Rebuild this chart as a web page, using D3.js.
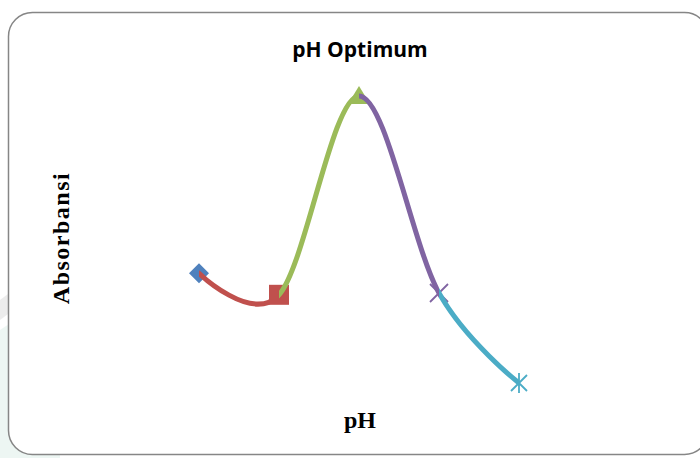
<!DOCTYPE html>
<html>
<head>
<meta charset="utf-8">
<script src="https://cdn.jsdelivr.net/npm/d3@7"></script>
<style>
  body { margin: 0; background: #fff; }
  svg { display: block; }
</style>
</head>
<body>
<div id="vis"></div>
<script>
// chart values
let phValues = [4, 5, 6, 7, 8];
let absorbance = [0.444, 0.396, 0.838, 0.400, 0.200];
let seriesColors = ['#4F81BD', '#C0504D', '#9BBB59', '#8064A2', '#4BACC6'];
let markerTypes = ['diamond', 'square', 'triangle', 'x', 'star'];

let width = 700;
let height = 458;

let svg = d3.select('#vis').append('svg')
  .attr('width', width)
  .attr('height', height);

// faint watermark band on the left side
svg.append('path')
  .attr('d', 'M0,330 L60,290 L60,458 L0,458 Z')
  .attr('fill', '#e6f2ee')
  .attr('opacity', 0.7);
svg.append('path')
  .attr('d', 'M0,300 L40,270 L40,290 L0,320 Z')
  .attr('fill', '#ececec');

// chart area with rounded border
svg.append('rect')
  .attr('x', 8.5).attr('y', 12.5)
  .attr('width', 700).attr('height', 442)
  .attr('rx', 24).attr('ry', 24)
  .attr('fill', '#fff')
  .attr('stroke', '#868686')
  .attr('stroke-width', 1.5);

// scales
let x = d3.scaleLinear().domain([3, 9]).range([119, 599]);
let y = d3.scaleLinear().domain([0, 1]).range([473, 23]);

let points = phValues.map((p, i) => [x(p), y(absorbance[i])]);

let line = d3.line().curve(d3.curveCardinal.tension(0));
let fullPath = line(points);

let defs = svg.append('defs');

// each series draws the piece of smoothed line ending at its point
for (let i = 1; i < points.length; i++) {
  defs.append('clipPath')
    .attr('id', 'seg' + i)
    .append('rect')
    .attr('x', points[i - 1][0]).attr('y', 0)
    .attr('width', points[i][0] - points[i - 1][0]).attr('height', height);
}

function drawMarker(i) {
  let [cx, cy] = points[i];
  let c = seriesColors[i];
  let g = svg.append('g').attr('transform', 'translate(' + cx + ',' + cy + ')');
  let type = markerTypes[i];
  if (type === 'diamond') {
    g.append('path').attr('d', 'M0,-10L10,0L0,10L-10,0Z').attr('fill', c);
  } else if (type === 'square') {
    g.append('rect').attr('x', -10).attr('y', -10).attr('width', 20).attr('height', 20).attr('fill', c);
  } else if (type === 'triangle') {
    g.append('path').attr('d', 'M0,-10L11,8L-11,8Z').attr('fill', c);
  } else if (type === 'x') {
    g.append('path').attr('d', 'M-9,-9L9,9M-9,9L9,-9')
      .attr('stroke', c).attr('stroke-width', 1.8).attr('fill', 'none');
  } else {
    g.append('path').attr('d', 'M-8,-8L8,8M-8,8L8,-8M0,-10L0,10')
      .attr('stroke', c).attr('stroke-width', 1.8).attr('fill', 'none');
  }
}

drawMarker(0);
for (let i = 1; i < points.length; i++) {
  svg.append('path')
    .attr('d', fullPath)
    .attr('clip-path', 'url(#seg' + i + ')')
    .attr('fill', 'none')
    .attr('stroke', seriesColors[i])
    .attr('stroke-width', 5)
    .attr('stroke-linecap', 'round');
  drawMarker(i);
}

// titles
svg.append('text')
  .attr('x', 360).attr('y', 57)
  .attr('text-anchor', 'middle')
  .style('font-family', '"Open Sans", sans-serif')
  .style('font-weight', 'bold')
  .style('font-size', '21px')
  .text('pH Optimum');

svg.append('text')
  .attr('transform', 'translate(69,238) rotate(-90)')
  .attr('text-anchor', 'middle')
  .style('font-family', '"Liberation Serif", serif')
  .style('font-weight', 'bold')
  .style('font-size', '24px')
  .style('letter-spacing', '1.5px')
  .text('Absorbansi');

svg.append('text')
  .attr('x', 360).attr('y', 428)
  .attr('text-anchor', 'middle')
  .style('font-family', '"Liberation Serif", serif')
  .style('font-weight', 'bold')
  .style('font-size', '24px')
  .text('pH');
</script>
</body>
</html>
